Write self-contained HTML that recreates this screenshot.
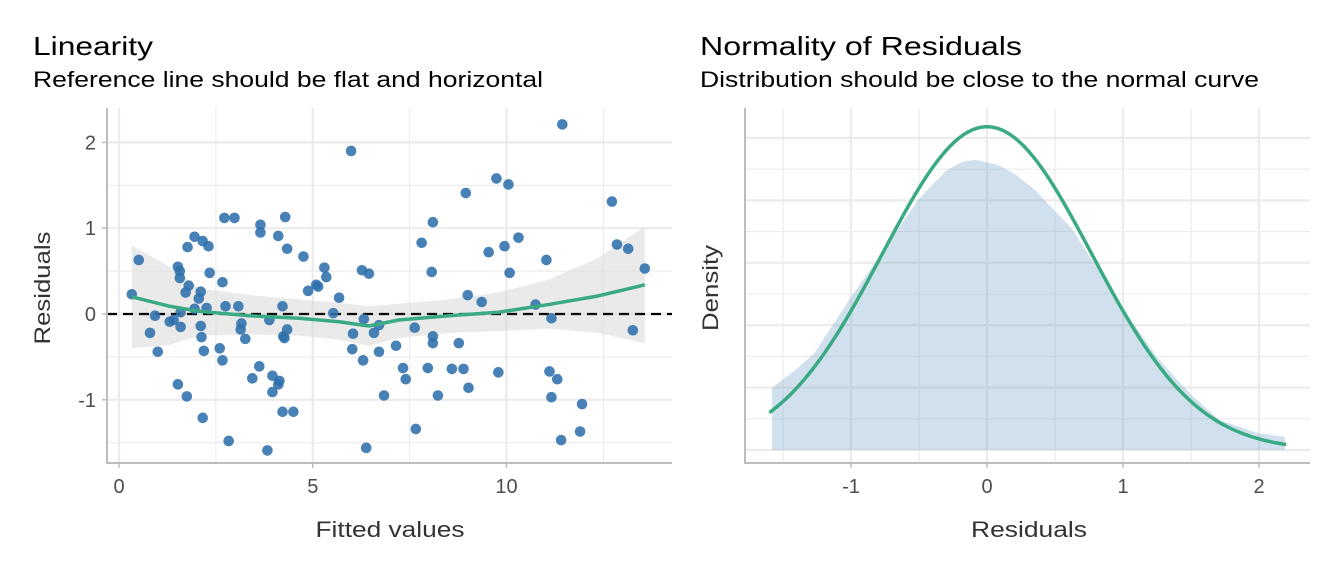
<!DOCTYPE html>
<html><head><meta charset="utf-8">
<style>
html,body{margin:0;padding:0;background:#fff;}
svg{display:block;font-family:"Liberation Sans",Arial,sans-serif;}
</style></head>
<body>
<svg id="chart" width="1344" height="576" viewBox="0 0 1344 576"></svg>
<script>
// ---- Linearity data ----
const fittedX = [5.99,2.72,2.98,3.65,3.65,4.29,1.95,2.16,2.31,1.77,4.11,4.34,4.76,0.51,1.52,1.57,1.57,2.34,2.67,5.30,5.35,1.80,1.72,2.11,2.06,5.09,4.88,5.14,5.68,6.27,6.45,0.33,2.75,3.08,4.22,2.26,1.95,1.59,5.53,0.93,1.41,1.31,1.59,2.11,3.16,3.14,3.26,3.88,4.34,4.24,4.27,6.32,6.04,6.58,6.71,0.80,2.13,1.00,2.19,2.60,2.67,6.02,6.30,6.71,7.15,3.62,3.44,3.96,4.14,4.11,3.96,1.52,1.75,6.84,4.22,4.50,2.16,2.83,3.83,6.38,11.44,9.74,10.05,8.95,12.72,8.10,7.81,9.54,9.95,10.31,12.85,13.14,11.03,8.07,10.08,13.57,9.00,9.36,10.75,11.16,7.63,13.26,8.10,8.10,8.77,7.33,7.40,7.97,8.59,8.89,9.79,9.02,8.23,11.11,11.31,11.16,11.95,7.66,11.90,11.41];
const residY = [1.90,1.12,1.12,1.04,0.95,1.13,0.90,0.85,0.79,0.78,0.91,0.76,0.67,0.63,0.55,0.50,0.42,0.48,0.37,0.54,0.43,0.33,0.25,0.26,0.18,0.34,0.27,0.32,0.19,0.51,0.47,0.23,0.09,0.09,0.09,0.07,0.06,0.02,0.01,-0.02,-0.07,-0.09,-0.15,-0.14,-0.11,-0.18,-0.29,-0.07,-0.18,-0.26,-0.28,-0.06,-0.23,-0.22,-0.13,-0.22,-0.27,-0.44,-0.43,-0.40,-0.54,-0.41,-0.54,-0.44,-0.37,-0.61,-0.75,-0.72,-0.78,-0.82,-0.91,-0.82,-0.96,-0.95,-1.14,-1.14,-1.21,-1.48,-1.59,-1.56,2.21,1.58,1.51,1.41,1.31,1.07,0.83,0.72,0.79,0.89,0.81,0.76,0.63,0.49,0.48,0.53,0.22,0.14,0.11,-0.05,-0.16,-0.19,-0.26,-0.34,-0.34,-0.63,-0.76,-0.63,-0.64,-0.64,-0.68,-0.86,-0.95,-0.67,-0.76,-0.97,-1.05,-1.34,-1.37,-1.47];
const smoothX = [0.33,1.31,2.08,3.37,4.65,5.68,6.45,7.22,8.51,9.79,11.08,12.36,13.57];
const smoothY = [0.20,0.09,0.03,-0.02,-0.05,-0.09,-0.14,-0.07,-0.02,0.02,0.11,0.21,0.34];
const bandUpper = [0.80,0.55,0.30,0.22,0.17,0.13,0.09,0.12,0.17,0.25,0.40,0.65,1.02];
const bandLower = [-0.40,-0.36,-0.25,-0.24,-0.25,-0.30,-0.37,-0.28,-0.22,-0.20,-0.17,-0.22,-0.34];
const xTicksL = [0,5,10];
const yTicksL = [-1,0,1,2];
// ---- Normality data ----
const densX = [-1.58,-1.58,-1.40,-1.27,-1.0,-0.76,-0.51,-0.38,-0.29,-0.18,-0.08,0.08,0.22,0.35,0.62,0.90,1.06,1.25,1.40,1.52,1.71,1.99,2.19];
const densY = [0.0,0.10,0.13,0.155,0.245,0.32,0.40,0.43,0.449,0.462,0.465,0.457,0.44,0.417,0.356,0.261,0.208,0.149,0.112,0.085,0.048,0.027,0.021];
const normMean = 0.0;
const normSd = 0.77;
const normRange = [-1.6,2.2];
const xTicksR = [-1,0,1,2];

const NS="http://www.w3.org/2000/svg";
const svg=document.getElementById('chart');
function mk(tag,attrs,parent){const e=document.createElementNS(NS,tag);for(const k in attrs)e.setAttribute(k,attrs[k]);(parent||svg).appendChild(e);return e;}

const L={x0:107,x1:672,y0:108,y1:463};
const lx=v=>119+v*38.75;
const ly=v=>314-v*85.8;
const R={x0:745,x1:1310,y0:108,y1:463};
const rx=v=>987+v*136;
const ry=v=>450-v*624;

function txt(s,x,y,size,fill,anchor,name,extra){const t=mk('text',Object.assign({x:x,y:y,'font-size':size,fill:fill,'text-anchor':anchor||'start'},extra||{}));t.textContent=s;return t;}
const fit=w=>({textLength:w,lengthAdjust:'spacingAndGlyphs'});

// Titles
txt('Linearity',33,55,26,'#000','start','left-title',fit(120));
txt('Reference line should be flat and horizontal',33,87,22,'#000','start','left-subtitle',fit(510));
txt('Normality of Residuals',700,55,26,'#000','start','right-title',fit(322));
txt('Distribution should be close to the normal curve',700,87,22,'#000','start','right-subtitle',fit(559));

// Left grid
const gL=mk('g',{});


for(let v=-1.5;v<=2.01;v+=0.5){const y=ly(v);if(y<L.y0||y>L.y1)continue;const maj=Math.abs(v-Math.round(v))<1e-6;mk('line',{x1:L.x0,x2:L.x1,y1:y,y2:y,stroke:'#ebebeb','stroke-width':maj?2.2:1.1},gL);}
for(let v=0;v<=14;v+=2.5){const x=lx(v);mk('line',{x1:x,x2:x,y1:L.y0,y2:L.y1,stroke:'#ebebeb','stroke-width':(v%5===0)?2.2:1.1},gL);}

let bp='';
smoothX.forEach((v,i)=>{bp+=(i?'L':'M')+lx(v)+','+ly(bandUpper[i]);});
for(let i=smoothX.length-1;i>=0;i--)bp+='L'+lx(smoothX[i])+','+ly(bandLower[i]);
const band=mk('path',{d:bp+'Z',fill:'#d9d9d9','fill-opacity':0.55});



const ref=mk('line',{x1:L.x0,x2:L.x1,y1:ly(0),y2:ly(0),stroke:'#000','stroke-width':2.2,'stroke-dasharray':'10,6'});



const gp=mk('g',{});


fittedX.forEach((v,i)=>{const c=mk('circle',{cx:lx(v),cy:ly(residY[i]),r:5.3,fill:'#2e70ab','fill-opacity':0.88},gp);

});

let sp='';smoothX.forEach((v,i)=>{sp+=(i?'L':'M')+lx(v)+','+ly(smoothY[i]);});
const sm=mk('path',{d:sp,fill:'none',stroke:'#3aaa85','stroke-width':3.5,'stroke-linejoin':'round'});



const axL=mk('path',{d:`M${L.x0},${L.y0}V${L.y1}H${L.x1}`,fill:'none',stroke:'#bdbdbd','stroke-width':2});


xTicksL.forEach(v=>{mk('line',{x1:lx(v),x2:lx(v),y1:L.y1,y2:L.y1+5,stroke:'#bdbdbd','stroke-width':1.5});txt(String(v),lx(v),493,20,'#4d4d4d','middle','x-tick-label');});
yTicksL.forEach(v=>{mk('line',{x1:L.x0-5,x2:L.x0,y1:ly(v),y2:ly(v),stroke:'#bdbdbd','stroke-width':1.5});txt(v<0?'-'+Math.abs(v):String(v),96,ly(v)+7,20,'#4d4d4d','end','y-tick-label');});
txt('Fitted values',390,537,22,'#333','middle','x-axis-title',fit(149));
txt('Residuals',50,288,22,'#333','middle','y-axis-title',Object.assign({transform:'rotate(-90 50 288)'},fit(113)));

// Right grid
const gR=mk('g',{});


for(let i=0;i<=10;i++){const y=ry(i*0.05);mk('line',{x1:R.x0,x2:R.x1,y1:y,y2:y,stroke:'#ebebeb','stroke-width':(i%2===0)?2.2:1.1},gR);}
for(let v=-1.5;v<=2.01;v+=0.5){const x=rx(v);const maj=Math.abs(v-Math.round(v))<1e-6;mk('line',{x1:x,x2:x,y1:R.y0,y2:R.y1,stroke:'#ebebeb','stroke-width':maj?2.2:1.1},gR);}

let dp='';densX.forEach((v,i)=>{dp+=(i?'L':'M')+rx(v)+','+ry(densY[i]);});
dp+='L'+rx(densX[densX.length-1])+','+ry(0)+'Z';
const df=mk('path',{d:dp,fill:'#7ba7cc','fill-opacity':0.35,'stroke-linejoin':'round'});



let np='';for(let i=0;i<=120;i++){const v=normRange[0]+(normRange[1]-normRange[0])*i/120;const d=Math.exp(-((v-normMean)**2)/(2*normSd*normSd))/(normSd*Math.sqrt(2*Math.PI));np+=(i?'L':'M')+rx(v)+','+ry(d);}
const nc=mk('path',{d:np,fill:'none',stroke:'#3aaa85','stroke-width':3.5});



const axR=mk('path',{d:`M${R.x0},${R.y0}V${R.y1}H${R.x1}`,fill:'none',stroke:'#bdbdbd','stroke-width':2});


xTicksR.forEach(v=>{mk('line',{x1:rx(v),x2:rx(v),y1:R.y1,y2:R.y1+5,stroke:'#bdbdbd','stroke-width':1.5});txt(v<0?'-'+Math.abs(v):String(v),rx(v),493,20,'#4d4d4d','middle','x-tick-label-right');});
txt('Residuals',1029,537,22,'#333','middle','x-axis-title-right',fit(116));
txt('Density',718,288,22,'#333','middle','y-axis-title-right',Object.assign({transform:'rotate(-90 718 288)'},fit(86)));
</script>
</body></html>
